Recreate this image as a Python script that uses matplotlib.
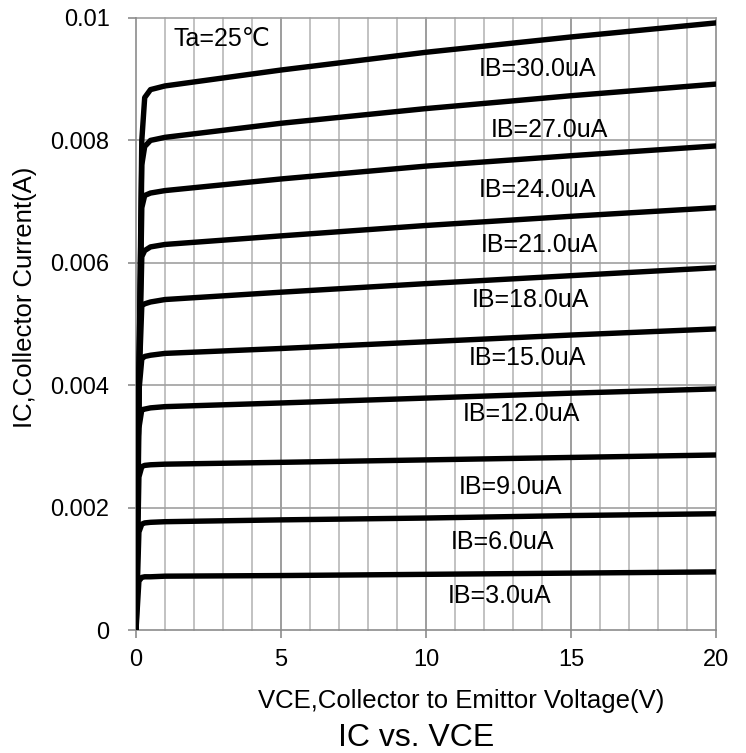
import numpy as np
import matplotlib
matplotlib.use("Agg")
import matplotlib.pyplot as plt

plt.rcParams['font.family'] = ['Liberation Sans', 'DejaVu Sans']

# collector-emitter voltage sample points (V)
vce = [0, 0.1, 0.2, 0.3, 0.5, 1, 5, 10, 15, 20]

# collector current (A) for each base current
ib_labels = ['IB=30.0uA', 'IB=27.0uA', 'IB=24.0uA', 'IB=21.0uA', 'IB=18.0uA',
             'IB=15.0uA', 'IB=12.0uA', 'IB=9.0uA', 'IB=6.0uA', 'IB=3.0uA']
ic_30 = [0, 0.0040, 0.0080, 0.0087, 0.00883, 0.00889, 0.00915, 0.00944, 0.00969, 0.00992]
ic_27 = [0, 0.0040, 0.0076, 0.0079, 0.0080, 0.00805, 0.00828, 0.00852, 0.00873, 0.00892]
ic_24 = [0, 0.0040, 0.0069, 0.0071, 0.00714, 0.00718, 0.00737, 0.00758, 0.00775, 0.00791]
ic_21 = [0, 0.0040, 0.0061, 0.0062, 0.00626, 0.0063, 0.00644, 0.00661, 0.00676, 0.0069]
ic_18 = [0, 0.0040, 0.0053, 0.00533, 0.00536, 0.0054, 0.00552, 0.00566, 0.00579, 0.00592]
ic_15 = [0, 0.0039, 0.00443, 0.00447, 0.00449, 0.00452, 0.0046, 0.00471, 0.00482, 0.00492]
ic_12 = [0, 0.0033, 0.0036, 0.00361, 0.00363, 0.00365, 0.00371, 0.00379, 0.00387, 0.00394]
ic_9 = [0, 0.0025, 0.00267, 0.00269, 0.0027, 0.00271, 0.00274, 0.00278, 0.00282, 0.00286]
ic_6 = [0, 0.0016, 0.00173, 0.00175, 0.00176, 0.00177, 0.0018, 0.00183, 0.00187, 0.0019]
ic_3 = [0, 0.0008, 0.00086, 0.00087, 0.00087, 0.00088, 0.00089, 0.00091, 0.00093, 0.00095]
curves = [ic_30, ic_27, ic_24, ic_21, ic_18, ic_15, ic_12, ic_9, ic_6, ic_3]

# label anchor points (V, A)
label_x = [13.86, 14.24, 13.86, 13.9, 13.6, 13.5, 13.3, 12.9, 12.65, 12.55]
label_y = [0.00917, 0.00817, 0.00719, 0.00629, 0.00539, 0.00444, 0.00353, 0.00233, 0.00144, 0.00056]

xticks = [0, 5, 10, 15, 20]
yticks = [0, 0.002, 0.004, 0.006, 0.008, 0.01]
ytick_labels = ['0', '0.002', '0.004', '0.006', '0.008', '0.01']

fig = plt.figure(figsize=(7.46, 7.53), dpi=100)
ax = fig.add_axes([0.1823, 0.1633, 0.9598 - 0.1823, 0.9761 - 0.1633])

# grid
for v in range(1, 21):
    c = '#8c8c8c' if v % 5 == 0 else '#b8b8b8'
    ax.axvline(v, color=c, lw=1.2, zorder=1, clip_on=False)
for y in yticks[1:]:
    ax.axhline(y, color='#a0a0a0', lw=1.2, zorder=1, clip_on=False)

for ic in curves:
    ax.plot(vce, ic, color='black', lw=3.9, solid_capstyle='round',
            solid_joinstyle='round', zorder=3)

for lab, lx, ly in zip(ib_labels, label_x, label_y):
    ax.text(lx, ly, lab, ha='center', va='center', fontsize=18, zorder=4)
ax.text(1.3, 0.00966, 'Ta=25℃', ha='left', va='center', fontsize=18, zorder=4)

ax.set_xlim(0, 20)
ax.set_ylim(0, 0.01)
ax.set_xticks(xticks)
ax.set_xticklabels([str(x) for x in xticks])
ax.set_yticks(yticks)
ax.set_yticklabels(ytick_labels)
ax.tick_params(axis='both', direction='out', length=6, width=1.2, color='#8c8c8c',
               labelsize=17)
ax.tick_params(axis='x', pad=8)
ax.tick_params(axis='y', pad=13)
for s in ['top', 'right']:
    ax.spines[s].set_visible(False)
for s in ['left', 'bottom']:
    ax.spines[s].set_color('#8c8c8c')
    ax.spines[s].set_linewidth(1.2)

fig.text(0.618, 0.0598, 'VCE,Collector to Emittor Voltage(V)', ha='center',
         va='baseline', fontsize=18.5)
fig.text(0.034, 0.6056, 'IC,Collector Current(A)', ha='center', va='center',
         rotation=90, fontsize=18.5)
fig.text(0.558, 0.0093, 'IC vs. VCE', ha='center', va='baseline', fontsize=23)

fig.savefig('out.png', dpi=100)
